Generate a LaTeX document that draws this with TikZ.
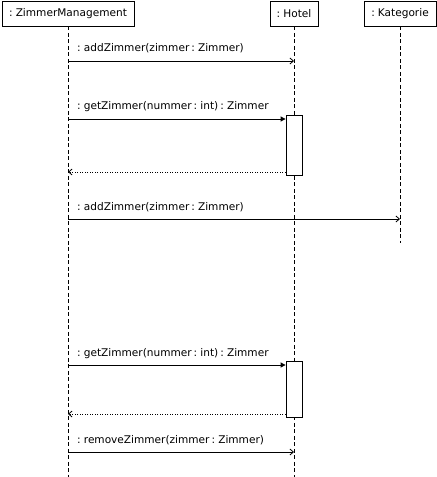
\documentclass[tikz,border=0pt]{standalone}
\usepackage{fontspec}
\setmainfont[WordSpace=0.6]{DejaVu Sans}
\usetikzlibrary{arrows.meta}
\begin{document}
\begin{tikzpicture}[x=1bp,y=-1bp,
  font=\fontsize{10.6}{12}\selectfont,
  head/.style={draw,line width=0.8bp,minimum height=25bp,inner sep=0pt,fill=white},
  lifeline/.style={line width=0.8bp,dash pattern=on 4bp off 2.5bp},
  actbox/.style={draw,line width=0.8bp,fill=white,minimum width=16bp,inner sep=0pt},
  msg/.style={line width=0.8bp,-{Straight Barb[length=3.5bp,width=6bp,line width=0.8bp]}},
  call/.style={line width=0.8bp,-{Triangle[length=5bp,width=5bp]}},
  reply/.style={line width=0.8bp,dash pattern=on 1bp off 1.5bp,-{Straight Barb[length=3.5bp,width=6bp,line width=0.8bp]}},
  lbl/.style={anchor=base west,inner sep=0pt}]
\useasboundingbox (0,0) rectangle (437,477);
\fill[white] (0,0) rectangle (437,477);

% lifeline heads
\node[head,minimum width=132bp] (zm) at (68,13.5) {: ZimmerManagement};
\node[head,minimum width=48bp] (ho) at (294,13.5) {: Hotel};
\node[head,minimum width=72bp] (ka) at (400,13.5) {: Kategorie};

% lifeline ends
\coordinate (zmEnd) at (68,477);
\coordinate (hoEnd) at (294,477);
\coordinate (kaEnd) at (400,243);

\draw[lifeline] (zm.south) -- (zmEnd);
\draw[lifeline] (ho.south) -- (hoEnd);
\draw[lifeline] (ka.south) -- (kaEnd);

% activation bars on Hotel
\node[actbox,minimum height=60bp] (act1) at (294,145) {};
\node[actbox,minimum height=56bp] (act2) at (294,389) {};

% message anchors on the caller's lifeline
\coordinate (m1) at (68,61);
\coordinate (m2) at (68,119);
\coordinate (r2) at (68,172);
\coordinate (m3) at (68,219);
\coordinate (m4) at (68,365);
\coordinate (r4) at (68,414);
\coordinate (m5) at (68,452);

% addZimmer to Hotel
\draw[msg] (m1) -- (ho |- m1);
\node[lbl] (t1) at (77,52) {: addZimmer(zimmer : Zimmer)};

% getZimmer with reply
\draw[call] (m2) -- (act1.west |- m2);
\node[lbl] (t2) at (77,110) {: getZimmer(nummer : int) : Zimmer};
\draw[reply] (act1.west |- r2) -- (r2);

% addZimmer to Kategorie
\draw[msg] (m3) -- (ka |- m3);
\node[lbl] (t3) at (77,210) {: addZimmer(zimmer : Zimmer)};

% second getZimmer with reply
\draw[call] (m4) -- (act2.west |- m4);
\node[lbl] (t4) at (77,356) {: getZimmer(nummer : int) : Zimmer};
\draw[reply] (act2.west |- r4) -- (r4);

% removeZimmer
\draw[msg] (m5) -- (ho |- m5);
\node[lbl] (t5) at (77,443) {: removeZimmer(zimmer : Zimmer)};
\end{tikzpicture}
\end{document}
